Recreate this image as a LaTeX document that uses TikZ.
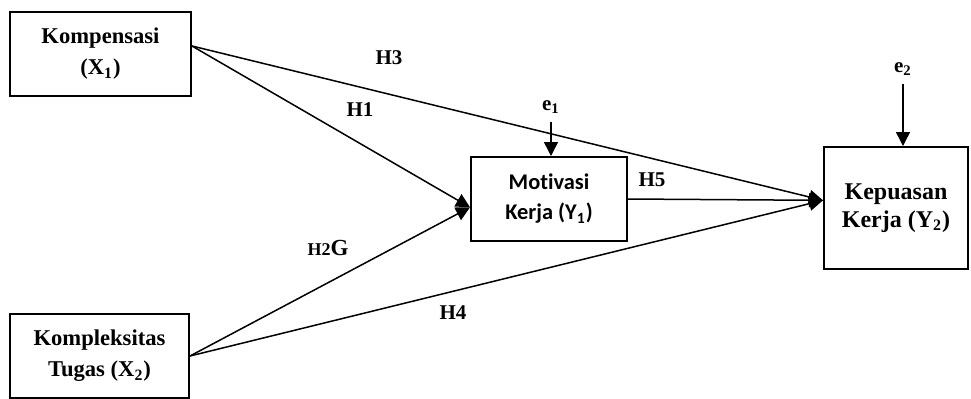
\documentclass[tikz,border=0pt]{standalone}
\usepackage{fontspec}
\setmainfont{Liberation Serif}
\newfontfamily\calibri[Ligatures=NoCommon]{Carlito}
\usetikzlibrary{arrows.meta}

\tikzset{
  box/.style={draw, line width=1pt, align=center, inner sep=0pt,
    font=\fontsize{11.3}{15.5}\selectfont\bfseries},
  lab/.style={inner sep=1pt, font=\fontsize{10.5}{12}\selectfont\bfseries},
}

\begin{document}
\begin{tikzpicture}[x=0.5pt,y=-0.5pt]
      \useasboundingbox (0,0) rectangle (971,398);
      \draw
        (100.5,54) node[box, minimum width=90.5pt, minimum height=42pt] (x1){Kompensasi\\(X\textsubscript{1})}
        (99.5,356) node[box, minimum width=89.5pt, minimum height=42pt] (x2){Kompleksitas\\Tugas (X\textsubscript{2})}
        (549,199) node[box, minimum width=78pt, minimum height=42pt,
          font=\calibri\fontsize{11.2}{15}\selectfont\bfseries] (y1){Motivasi\\Kerja (Y\textsubscript{1})}
        (896,208) node[box, minimum width=72pt, minimum height=61pt,
          font=\fontsize{12}{14}\selectfont\bfseries] (y2){Kepuasan\\Kerja (Y\textsubscript{2})}
        (551,107) node[lab] (e1){e\textsubscript{1}}
        (903,69) node[lab] (e2){e\textsubscript{2}};
      \draw
        (360,110) node[lab] (h1){H1}
        (328,248) node[lab, font=\fontsize{11.5}{12}\selectfont\bfseries] (h2){{\fontsize{9}{10}\selectfont H2}G}
        (389,58) node[lab] (h3){H3}
        (453,313) node[lab] (h4){H4}
        (652,180) node[lab] (h5){H5};
      \begin{scope}[line width=0.75pt, -{Triangle[length=7pt,width=7pt]}]
        \draw (x1.5) to (y1.186);
        \draw (x2.east) to (y1.186);
        \draw (x1.5) to (y2.174);
        \draw (x2.east) to (y2.174);
        \draw (y1.east) to (y2.174);
        \draw[shorten <=3pt] (e1) to (e1 |- y1.north);
        \draw[shorten <=3pt] (e2) to (e2 |- y2.north);
      \end{scope}
    \end{tikzpicture}
\end{document}
